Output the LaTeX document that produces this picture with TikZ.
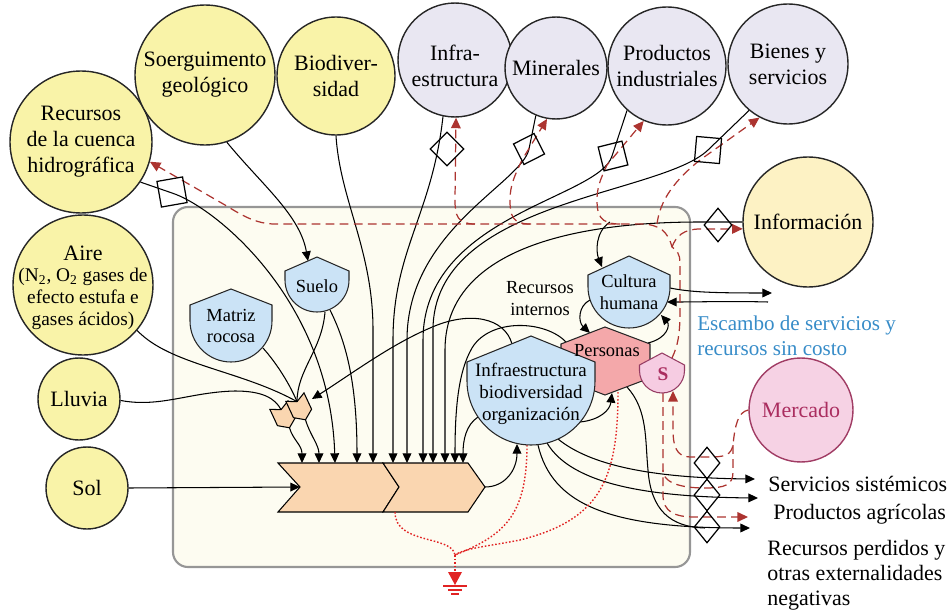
\documentclass[tikz,border=0pt]{standalone}
\usepackage{fontspec}
\setmainfont{Liberation Serif}
\usetikzlibrary{arrows.meta,shapes.geometric}

\definecolor{yel}{RGB}{249,243,168}
\definecolor{lav}{RGB}{233,231,242}
\definecolor{infofill}{RGB}{253,242,196}
\definecolor{merfill}{RGB}{246,210,228}
\definecolor{merline}{RGB}{160,60,100}
\definecolor{mertext}{RGB}{170,45,95}
\definecolor{boxfill}{RGB}{253,252,241}
\definecolor{boxline}{RGB}{150,150,150}
\definecolor{shieldfill}{RGB}{203,227,246}
\definecolor{persfill}{RGB}{244,168,170}
\definecolor{sfill}{RGB}{246,204,226}
\definecolor{sline}{RGB}{150,60,100}
\definecolor{chevfill}{RGB}{250,214,176}
\definecolor{money}{RGB}{172,52,48}
\definecolor{heat}{RGB}{225,35,35}
\definecolor{bluetxt}{RGB}{55,140,200}

% storage symbol: pointed roof, straight sides, round bottom
% #1 style, #2 centre x, #3 apex y, #4 half width, #5 shoulder y, #6 bottom y
\newcommand\shieldat[6]{%
  \path[#1] (#2,#3) -- ({#2+#4},#5) -- ({#2+#4},{#6-#4})
    arc[start angle=0,end angle=180,radius=#4] -- ({#2-#4},#5) -- cycle;}

\tikzset{
  src/.style={circle, draw=black!85, line width=0.8pt, inner sep=0pt,
    align=center, font=\fontsize{12.5}{14.8}\selectfont},
  ysrc/.style={src, fill=yel},
  lsrc/.style={src, fill=lav},
  wire/.style={line width=0.6pt},
  flow/.style={wire, -{Triangle[length=5.5pt,width=5pt]}},
  cash/.style={money, line width=0.7pt, dash pattern=on 5pt off 3pt},
  casharrow/.style={cash, -{Triangle[length=6pt,width=5.5pt]}},
  heatflow/.style={heat, line width=0.8pt, dash pattern=on 0.9pt off 1.1pt},
  gate/.style={draw, line width=0.7pt, inner sep=0pt},
  gated/.style={diamond, draw, line width=0.7pt, inner sep=0pt},
  innertxt/.style={font=\fontsize{10.5}{12.5}\selectfont, align=center, inner sep=0pt},
  outlbl/.style={font=\fontsize{12.5}{14.2}\selectfont, align=left, anchor=base west, inner sep=0pt},
}

\begin{document}
\begin{tikzpicture}[x=0.02cm,y=-0.02cm]
\useasboundingbox (0,0) rectangle (951,615);

% system boundary
\draw[draw=boxline, fill=boxfill, line width=1.2pt, rounded corners=8.5pt]
  (173,207) rectangle (690,567);

% ---------- external sources ----------
\node[ysrc, minimum size=2.84cm] (cuenca) at (81,142) {Recursos\\de la cuenca\\hidrográfica};
\node[ysrc, minimum size=2.80cm] (soer) at (205,75) {Soerguimento\\geológico};
\node[ysrc, minimum size=2.36cm] (biod) at (336,76) {Biodiver-\\sidad};
\node[lsrc, minimum size=2.28cm] (infraC) at (455,60) {};
\node[font=\fontsize{12.5}{14.8}\selectfont, align=center] (infraCT) at (455,66) {Infra-\\estructura};
\node[lsrc, minimum size=2.04cm] (miner) at (556,68) {Minerales};
\node[lsrc, minimum size=2.36cm] (prod) at (667,66) {Productos\\industriales};
\node[lsrc, minimum size=2.40cm] (bienes) at (788,64) {Bienes y\\servicios};
\node[src, fill=infofill, minimum size=2.60cm] (info) at (808,222) {Información};
\node[ysrc, minimum size=2.80cm] (aire) at (83,285) {};
\node[font=\fontsize{12.5}{14}\selectfont] (aireT) at (83,253) {Aire};
\node[font=\fontsize{11}{12.5}\selectfont, align=center] (aireN) at (83,299)
  {(N\textsubscript{2}, O\textsubscript{2} gases de\\efecto estufa e\\gases ácidos)};
\node[ysrc, minimum size=1.64cm] (lluvia) at (79,399) {Lluvia};
\node[ysrc, minimum size=1.64cm] (sol) at (87,488) {Sol};
\node[src, fill=merfill, draw=merline, text=mertext, minimum size=2.08cm] (mercado) at (801,410) {Mercado};

% ---------- production chevrons ----------
\draw[wire, fill=chevfill] (278,463) -- (383,463) -- (399,487) -- (383,512) -- (278,512) -- (300,487) -- cycle;
\draw[wire, fill=chevfill] (383,463) -- (468,463) -- (485,487) -- (468,512) -- (383,512) -- (399,487) -- cycle;
\coordinate (chevNotch) at (300,487);
\coordinate (chevTip) at (485,487);

% small interactions feeding the production
\begin{scope}[shift={(284,416)}, rotate=25]
  \draw[wire, fill=chevfill] (-10,-12) -- (0,-7) -- (10,-12) -- (10,6) -- (0,13) -- (-10,6) -- cycle;
  \coordinate (cAtop) at (0,-7);
  \coordinate (cAbot) at (0,13);
\end{scope}
\begin{scope}[shift={(300,408)}, rotate=25]
  \draw[wire, fill=chevfill] (-10,-12) -- (0,-7) -- (10,-12) -- (10,6) -- (0,13) -- (-10,6) -- cycle;
  \coordinate (cBtop) at (0,-7);
  \coordinate (cBbot) at (0,13);
\end{scope}
\coordinate (cBin) at (312,399);

% named points on the inner symbols
\coordinate (sueloIn) at (308,261);
\coordinate (sueloOutA) at (330,310);
\coordinate (sueloOutB) at (325,312);
\coordinate (matrizOut) at (263,348);
\coordinate (infraRoof) at (512,344);
\coordinate (infraLeft) at (478,417);
\coordinate (infraBot) at (517,444);
\coordinate (infraRight) at (580,422);
\coordinate (infraS1) at (558,439);
\coordinate (infraS2) at (547,443);
\coordinate (infraS3) at (538,445);
\coordinate (persIn) at (612,393);
\coordinate (persTop) at (590,333);
\coordinate (persUL) at (566,342);
\coordinate (persUR) at (648,343);
\coordinate (persBR) at (627,387);
\coordinate (persBot) at (618,392);
\coordinate (cultIn) at (602,267);
\coordinate (cultL) at (590,300);
\coordinate (cultBR) at (661,315);
\coordinate (cultOut) at (670,288);
\coordinate (cultIn2) at (667,302);
\coordinate (sRoof) at (672,358);
\coordinate (sBotA) at (663,393);
\coordinate (sBotB) at (673,391);
\coordinate (infoTap) at (610,222);
\coordinate (J) at (672,247);

% ---------- energy flows into production ----------
\draw[flow] (cuenca.-34) -- (172,193) .. controls (215,207) and (330,300) .. (335,463);
\draw[flow] (soer.-72) .. controls (262,185) and (300,215) .. (sueloIn);
\draw[flow] (biod.-90) .. controls (340,200) and (373,250) .. (373,330) -- (373,463);
\draw[flow] (infraC.-102) .. controls (432,215) and (393,250) .. (393,340) -- (393,463);
\draw[flow] (miner.-113) -- (529,149) .. controls (522,183) and (407,230) .. (407,340) -- (407,463);
\draw[flow] (prod.-132) -- (612,156) .. controls (599,199) and (423,215) .. (423,340) -- (423,463);
\draw[flow] (bienes.-130) -- (708,150) .. controls (660,196) and (433,200) .. (433,330) -- (433,463);
\draw[flow] (info.180) -- (700,222) .. controls (560,222) and (445,255) .. (445,350) -- (445,463);
\draw[flow] (infoTap) .. controls (595,232) and (596,252) .. (cultIn);
\draw[flow] (sueloOutA) .. controls (345,340) and (357,380) .. (357,463);
\draw[flow] (persUL) .. controls (545,320) and (490,318) .. (472,348) .. controls (458,372) and (455,410) .. (455,463);
\draw[flow] (infraLeft) .. controls (466,425) and (463,440) .. (463,463);
\draw[flow] (cAbot) .. controls (293,440) and (302,445) .. (302,463);
\draw[flow] (cBbot) .. controls (310,435) and (319,445) .. (319,463);
\draw[flow] (sol.0) -- (chevNotch);

% inputs to the small interactions
\draw[wire] (lluvia.-2) .. controls (160,408) and (190,392) .. (235,391) .. controls (262,391) and (275,398) .. (cAtop);
\draw[wire] (aire.-40) .. controls (170,365) and (240,370) .. (cBtop);
\draw[wire] (matrizOut) .. controls (278,365) and (290,385) .. (cBtop);
\draw[wire] (sueloOutB) .. controls (322,350) and (297,370) .. (cBtop);
\draw[flow] (infraRoof) .. controls (505,318) and (470,310) .. (430,328) .. controls (390,345) and (350,375) .. (cBin);

% internal feedbacks
\draw[flow] (chevTip) .. controls (505,487) and (517,470) .. (infraBot);
\draw[flow] (infraRight) .. controls (600,420) and (610,410) .. (persIn);
\draw[flow] (cultL) .. controls (578,306) and (578,322) .. (persTop);
\draw[flow] (persUR) .. controls (668,338) and (670,325) .. (cultBR);
\draw[flow] (cultOut) .. controls (690,292) and (710,293) .. (772,293);
\draw[flow] (768,302) .. controls (730,301) and (700,302) .. (cultIn2);

% outputs
\draw[flow] (infraS1) .. controls (590,465) and (650,478) .. (755,479);
\draw[flow] (infraS2) .. controls (572,485) and (650,497) .. (758,498);
\draw[flow] (infraS3) .. controls (552,505) and (610,528) .. (750,528);
\draw[wire] (persBR) .. controls (648,410) and (645,440) .. (648,470) .. controls (651,510) and (670,527) .. (705,528);

% ---------- money flows ----------
\draw[casharrow] (sRoof) .. controls (678,345) and (680,335) .. (680,310) -- (680,262) .. controls (680,255) and (677,250) .. (J)
  .. controls (668,232) and (660,224) .. (640,224) -- (275,224) .. controls (255,224) and (240,214) .. (225,205) -- (cuenca.-16);
\draw[casharrow] (J) .. controls (676,236) and (684,229) .. (700,229) -- (info.186);
\draw[casharrow] (475,224) .. controls (457,224) and (455,215) .. (455,200) -- (infraC.-89);
\draw[casharrow] (530,224) .. controls (512,224) and (510,215) .. (510,200) .. controls (510,185) and (515,175) .. (522,160) -- (miner.-100);
\draw[casharrow] (620,224) .. controls (600,224) and (597,215) .. (597,200) .. controls (597,188) and (600,180) .. (607,165) -- (prod.-113);
\draw[casharrow] (657,224) .. controls (660,200) and (675,180) .. (700,160) -- (bienes.-118);
\draw[casharrow] (mercado.180) .. controls (738,412) and (735,425) .. (733,445) .. controls (731,455) and (725,457) .. (710,457)
  -- (690,457) .. controls (676,457) and (673,445) .. (673,430) -- (sBotB);
\draw[cash] (733,445) -- (733,472) .. controls (733,485) and (725,488) .. (705,488) .. controls (690,488) and (663,486) .. (663,470);
\draw[casharrow] (sBotA) -- (663,495) .. controls (663,512) and (675,517) .. (695,517) -- (748,517);

% ---------- heat sink ----------
\coordinate (sink) at (455,555);
\draw[heatflow] (395,512) .. controls (395,545) and (452,535) .. (sink);
\draw[heatflow] (527,445) .. controls (527,515) and (505,535) .. (sink);
\draw[heatflow] (persBot) .. controls (618,480) and (600,520) .. (520,540) .. controls (490,546) and (465,548) .. (sink);
\draw[heatflow] (sink) -- (455,572);
\coordinate (gnd) at (455,585);
\fill[heat] (448,572) -- (462,572) -- (gnd) -- cycle;
\draw[heat, line width=0.8pt] (443,586) -- (467,586) (448,590) -- (462,590) (451,594) -- (459,594);

% ---------- inner storages and consumers ----------
\shieldat{draw=black!85, fill=shieldfill, wire}{317}{257}{32}{271}{312}
\shieldat{draw=black!85, fill=shieldfill, wire}{231}{289}{41}{305}{362}
\shieldat{draw=black!85, fill=shieldfill, wire}{629}{256}{41}{275}{328}
\draw[wire, draw=black!85, fill=persfill] (605,327) -- (650,344) -- (650,378) -- (605,395) -- (561,378) -- (561,344) -- cycle;
\shieldat{draw=black!85, fill=shieldfill, wire}{531}{336}{64}{362}{445}
\shieldat{draw=sline, fill=sfill, wire}{662}{353}{22.5}{365}{393}

\node[innertxt] (suelo) at (317,286) {Suelo};
\node[innertxt] (matriz) at (231,326) {Matriz\\rocosa};
\node[innertxt] (cultura) at (629,292) {Cultura\\humana};
\node[innertxt] (personas) at (607,351) {Personas};
\node[innertxt, font=\fontsize{11}{12}\selectfont\bfseries, text=mertext] (dinero) at (663,374) {S};
\node[innertxt, font=\fontsize{10.8}{12.5}\selectfont] (infra) at (531,394) {Infraestructura\\biodiversidad\\organización};
\node[innertxt] (internos) at (540,299) {Recursos\\internos};

% ---------- work gates ----------
\node[gate, rotate=10, minimum size=0.52cm] (g1) at (172,192) {};
\node[gated, minimum width=0.68cm, minimum height=0.68cm] (g2) at (447,149) {};
\node[gate, rotate=27, minimum size=0.46cm] (g3) at (529,149) {};
\node[gate, rotate=14, minimum size=0.49cm] (g4) at (613,156) {};
\node[gate, rotate=-5, minimum size=0.50cm] (g5) at (708,150) {};
\node[gated, minimum width=0.56cm, minimum height=0.68cm] (g6) at (718,225) {};
\node[gated, minimum width=0.52cm, minimum height=0.64cm] (g7) at (707,463) {};
\node[gated, minimum width=0.52cm, minimum height=0.64cm] (g8) at (707,495) {};
\node[gated, minimum width=0.52cm, minimum height=0.64cm] (g9) at (707,527) {};

% ---------- outside labels (multi-line nodes sit on their last baseline) ----------
\node[outlbl, text=bluetxt, font=\fontsize{12}{14.7}\selectfont] (escambo) at (697,356) {Escambo de servicios y\\recursos sin costo};
\node[outlbl] (servicios) at (768,491) {Servicios sistémicos};
\node[outlbl] (agricolas) at (773,519) {Productos agrícolas};
\node[outlbl] (perdidos) at (767,605) {Recursos perdidos y\\otras externalidades\\negativas};
\end{tikzpicture}
\end{document}
